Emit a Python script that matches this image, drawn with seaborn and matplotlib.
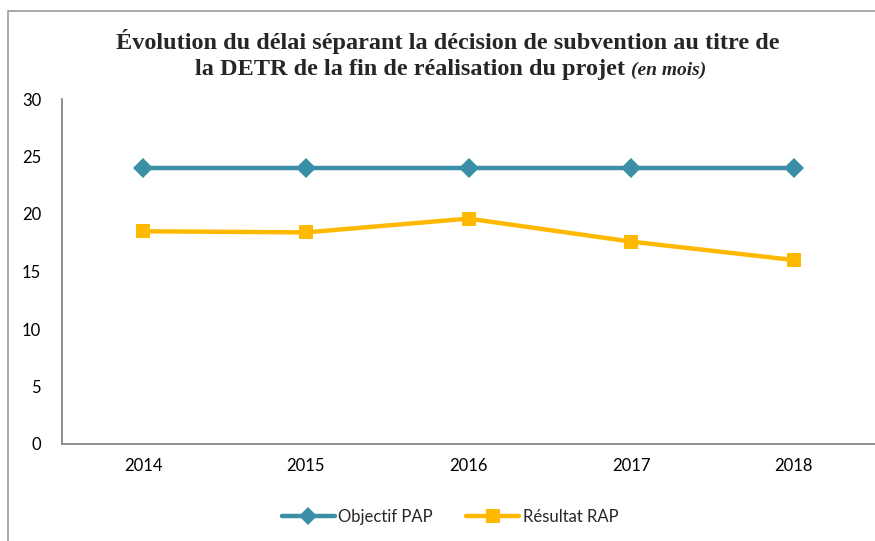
import matplotlib
matplotlib.use("Agg")
import matplotlib.pyplot as plt
import seaborn as sns
import pandas as pd
from matplotlib.patches import Rectangle
from matplotlib.lines import Line2D

years = ["2014", "2015", "2016", "2017", "2018"]
objectif_pap = [24, 24, 24, 24, 24]
resultat_rap = [18.5, 18.4, 19.6, 17.6, 16.0]
series_names = ["Objectif PAP", "Résultat RAP"]
colors = ["#3A8FA6", "#FFB901"]

df = pd.DataFrame({
    "year": years * 2,
    "value": objectif_pap + resultat_rap,
    "series": [series_names[0]] * len(years) + [series_names[1]] * len(years),
})

sns.set_theme(style="white")
plt.rcParams["font.family"] = ["Lato", "DejaVu Sans"]

fig = plt.figure(figsize=(8.75, 5.41), dpi=100)
ax = fig.add_axes([62 / 875, 97 / 541, 1 - 62 / 875, 345 / 541])

sns.lineplot(data=df, x="year", y="value", hue="series", style="series",
             markers=["D", "s"], dashes=False, palette=colors,
             linewidth=3.2, markersize=10, markeredgewidth=0, ax=ax,
             legend=False, sort=False)

ax.set_xlim(-0.5, 4.5)
ax.set_ylim(0, 30)
ax.set_yticks(range(0, 31, 5))
ax.set_xlabel("")
ax.set_ylabel("")
for s in ["top", "right"]:
    ax.spines[s].set_visible(False)
for s in ["left", "bottom"]:
    ax.spines[s].set_color("#868686")
    ax.spines[s].set_linewidth(1.3)
ax.tick_params(axis="both", length=0, labelsize=12, colors="#000000")
ax.tick_params(axis="y", pad=15)
ax.tick_params(axis="x", pad=10)

serif = ["Liberation Serif", "DejaVu Serif"]
fig.text(0.512, 1 - 42 / 541, "Évolution du délai séparant la décision de subvention au titre de",
         ha="center", va="center", fontsize=17.5, fontweight="bold", family=serif)
t2 = "la DETR de la fin de réalisation du projet "
r = fig.canvas.get_renderer()
a = fig.text(0, 1 - 70 / 541, t2, ha="left", va="center", fontsize=17.5,
             fontweight="bold", family=serif)
b = fig.text(0, 1 - 70 / 541, "(en mois)", ha="left", va="center", fontsize=14,
             fontweight="bold", fontstyle="italic", family=serif)
wa = a.get_window_extent(r).width
wb = b.get_window_extent(r).width
total = wa + wb
x0 = (451 - total / 2) / 875
a.set_x(x0)
b.set_x(x0 + wa / 875)

handles = [Line2D([0], [0], color=colors[0], lw=3.2, marker="D", markersize=9, markeredgewidth=0),
           Line2D([0], [0], color=colors[1], lw=3.2, marker="s", markersize=10, markeredgewidth=0)]
fig.legend(handles, series_names, loc="center", bbox_to_anchor=(450 / 875, 1 - 517 / 541),
           ncol=2, frameon=False, fontsize=12, handlelength=3.2, columnspacing=2.0,
           handletextpad=0.2)

fig.patches.append(Rectangle((8 / 875, -0.05), 1.2, 1 - 11 / 541 + 0.05,
                             transform=fig.transFigure, fill=False,
                             edgecolor="#9a9a9a", linewidth=1.2))

fig.savefig("out.png", dpi=100)
